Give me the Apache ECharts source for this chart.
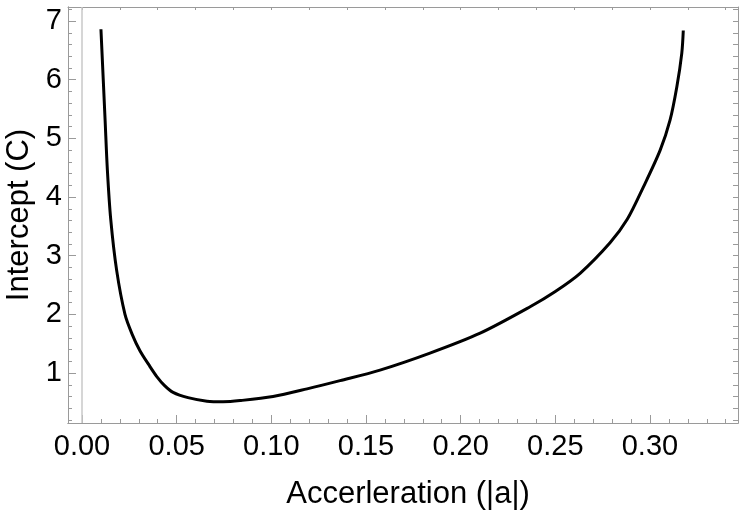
<!DOCTYPE html>
<html>
<head>
<meta charset="UTF-8">
<title>Intercept vs Acceleration</title>
<script src="https://cdn.jsdelivr.net/npm/echarts@6.0.0/dist/echarts.min.js"></script>
<style>
  html, body { margin: 0; padding: 0; background: #fff; }
  #main { width: 750px; height: 511px; }
</style>
</head>
<body>
<div id="main"></div>
<script>
// values
var accel = [0.0100, 0.0122, 0.0134, 0.0152, 0.0183, 0.0227, 0.0265, 0.0306, 0.0359, 0.0395,
             0.0435, 0.0481, 0.0560, 0.0660, 0.0745, 0.0835, 0.1009, 0.1189, 0.1363, 0.1574,
             0.1838, 0.2103, 0.2367, 0.2500, 0.2631, 0.2789, 0.2880, 0.2965, 0.3054, 0.3106,
             0.3142, 0.3168, 0.3176];
var intercept = [6.86, 5.31, 4.46, 3.61, 2.75, 2.00, 1.66, 1.38, 1.11, 0.94,
                 0.79, 0.67, 0.58, 0.52, 0.51, 0.53, 0.60, 0.73, 0.87, 1.05,
                 1.34, 1.68, 2.13, 2.39, 2.70, 3.22, 3.62, 4.17, 4.80, 5.31,
                 5.88, 6.45, 6.84];

var xMajor = [0, 0.05, 0.10, 0.15, 0.20, 0.25, 0.30];
var xLabels = ['0.00', '0.05', '0.10', '0.15', '0.20', '0.25', '0.30'];
var yMajor = [1, 2, 3, 4, 5, 6, 7];

// minor tick positions (frame decoration)
function steps(from, to, step) {
  var out = [];
  for (var i = 0; from + i * step <= to + 1e-9; i++) out.push(+(from + i * step).toFixed(4));
  return out;
}
var xMinor = steps(0, 0.34, 0.01);
var xTop = steps(0, 0.34, 0.02);
var yMinor = steps(0.2, 7.2, 0.2);

var xMin = -0.0074, xMax = 0.3465, yMin = 0.148, yMax = 7.24;
var frame = '#9a9a9a';
var font = 'Liberation Sans, Arial, sans-serif';

var data = accel.map(function (a, i) { return [a, intercept[i]]; });

function xAx(pos, vals, len, extra) {
  var o = {
    type: 'value', position: pos, min: xMin, max: xMax,
    axisLine: { show: true, onZero: false, lineStyle: { color: frame, width: 1 } },
    axisTick: { show: true, inside: true, length: len, customValues: vals,
                lineStyle: { color: frame, width: 1 } },
    axisLabel: { show: false },
    splitLine: { show: false }
  };
  return Object.assign(o, extra || {});
}
function yAx(pos, vals, len, extra) {
  var o = {
    type: 'value', position: pos, min: yMin, max: yMax,
    axisLine: { show: true, onZero: false, lineStyle: { color: frame, width: 1 } },
    axisTick: { show: true, inside: true, length: len, customValues: vals,
                lineStyle: { color: frame, width: 1 } },
    axisLabel: { show: false },
    splitLine: { show: false }
  };
  return Object.assign(o, extra || {});
}

var option = {
  animation: false,
  grid: { left: 68, right: 12, top: 7, bottom: 88, containLabel: false, outerBoundsMode: 'none' },
  xAxis: [
    xAx('bottom', xMajor, 8, {
      name: 'Accerleration (|a|)', nameLocation: 'middle', nameGap: 56,
      nameTextStyle: { color: '#000', fontSize: 31, fontFamily: font, padding: [0, 0, 0, 10] },
      axisLabel: { show: true, customValues: xMajor, margin: 9, color: '#000',
                   fontSize: 29, fontFamily: font,
                   formatter: function (v) { return xLabels[xMajor.indexOf(+v.toFixed(2))] || v.toFixed(2); } }
    }),
    xAx('bottom', xMinor, 4),
    xAx('top', xTop, 3)
  ],
  yAxis: [
    yAx('left', yMajor, 8, {
      name: 'Intercept (C)', nameLocation: 'middle', nameGap: 26,
      nameTextStyle: { color: '#000', fontSize: 31, fontFamily: font },
      axisLabel: { show: true, customValues: yMajor, margin: 6, color: '#000',
                   fontSize: 29, fontFamily: font }
    }),
    yAx('left', yMinor, 4),
    yAx('right', yMinor, 5)
  ],
  series: [{
    type: 'line',
    xAxisIndex: 0, yAxisIndex: 0,
    data: data,
    showSymbol: false,
    smooth: 0.3,
    lineStyle: { color: '#000', width: 3 },
    markLine: {
      silent: true, symbol: 'none', label: { show: false },
      lineStyle: { color: '#c8c8c8', width: 1.5, type: 'solid' },
      data: [{ xAxis: 0 }]
    }
  }]
};

var chart = echarts.init(document.getElementById('main'));
chart.setOption(option);
</script>
</body>
</html>
